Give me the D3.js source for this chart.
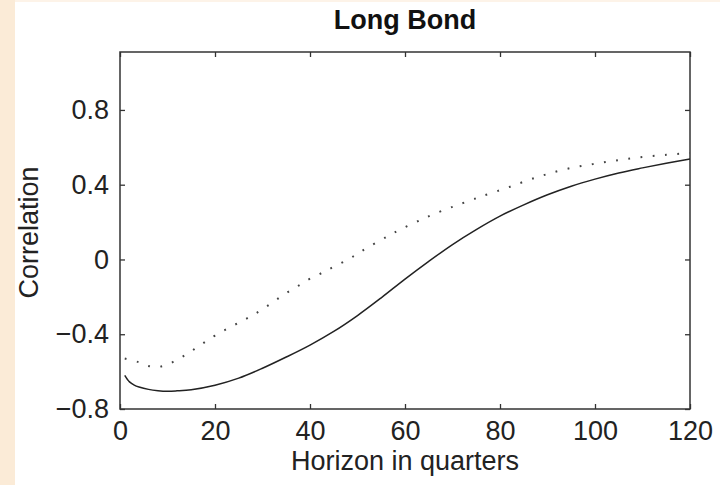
<!DOCTYPE html>
<html>
<head>
<meta charset="utf-8">
<script src="https://cdn.jsdelivr.net/npm/d3@7.9.0/dist/d3.min.js"></script>
<style>
  html, body { margin: 0; padding: 0; background: #fff; }
  svg { display: block; font-family: 'Liberation Sans', Arial, sans-serif; }
</style>
</head>
<body>
<div id="chart"></div>
<script>
// horizon (quarters) and correlations
const solidX = [1, 2, 3, 4, 6, 8, 10, 12, 15, 20, 25, 30, 35, 40, 45, 50, 55, 60, 65, 70, 75, 80, 85, 90, 95, 100, 105, 110, 115, 120];
const solidY = [-0.62, -0.655, -0.672, -0.682, -0.695, -0.702, -0.705, -0.703, -0.697, -0.673, -0.635, -0.582, -0.522, -0.458, -0.385, -0.3, -0.205, -0.105, -0.01, 0.08, 0.16, 0.232, 0.292, 0.346, 0.392, 0.43, 0.463, 0.49, 0.515, 0.538];

const dottedX = [1, 4, 6, 8, 10, 12, 14, 16, 18, 20, 23, 26, 28, 30, 32, 34, 36, 38, 40, 43, 45, 48, 50, 52, 55, 57, 59, 62, 64, 66, 69, 71, 74, 76, 79, 82, 86, 90, 95, 100, 105, 110, 115, 120];
const dottedY = [-0.53, -0.55, -0.57, -0.575, -0.562, -0.537, -0.507, -0.474, -0.44, -0.407, -0.365, -0.325, -0.297, -0.266, -0.232, -0.196, -0.164, -0.134, -0.103, -0.066, -0.039, 0.0, 0.03, 0.062, 0.105, 0.133, 0.16, 0.197, 0.219, 0.242, 0.272, 0.291, 0.318, 0.337, 0.362, 0.388, 0.425, 0.457, 0.49, 0.512, 0.532, 0.548, 0.56, 0.57];

const xTicks = [0, 20, 40, 60, 80, 100, 120];
const yTicks = [-0.8, -0.4, 0, 0.4, 0.8];

const title = 'Long Bond';
const xLabel = 'Horizon in quarters';
const yLabel = 'Correlation';

const width = 720;
const height = 485;
const plot = { left: 120, right: 690, top: 52, bottom: 409 };

const svg = d3.select('#chart')
  .append('svg')
  .attr('width', width)
  .attr('height', height);

// page decoration strips
svg.append('rect').attr('x', 0).attr('y', 0).attr('width', width).attr('height', 2).attr('fill', '#fdf3e8');
svg.append('rect').attr('x', 0).attr('y', 0).attr('width', 15).attr('height', height).attr('fill', '#fbebd7');

const x = d3.scaleLinear().domain([0, 120]).range([plot.left, plot.right]);
const y = d3.scaleLinear().domain([-0.8, 1.11]).range([plot.bottom, plot.top]);

const fmt = (d) => (d < 0 ? '\u2212' + Math.abs(d) : String(d));

function styleAxis(g) {
  g.select('.domain').remove();
  g.selectAll('.tick line').attr('stroke', '#333').attr('stroke-width', 1.3);
  g.selectAll('.tick text')
    .attr('fill', '#222')
    .style('font-size', '27px')
    .style('font-family', "'Liberation Sans', Arial, sans-serif");
}

svg.append('g')
  .attr('transform', `translate(0,${plot.bottom})`)
  .call(d3.axisBottom(x).tickValues(xTicks).tickSize(-5).tickPadding(12).tickFormat(fmt))
  .call(styleAxis);

svg.append('g')
  .attr('transform', `translate(0,${plot.top})`)
  .call(d3.axisTop(x).tickValues(xTicks).tickSize(-5).tickFormat(''))
  .call(styleAxis);

svg.append('g')
  .attr('transform', `translate(${plot.left},0)`)
  .call(d3.axisLeft(y).tickValues(yTicks).tickSize(-5).tickPadding(11).tickFormat(fmt))
  .call(styleAxis);

svg.append('g')
  .attr('transform', `translate(${plot.right},0)`)
  .call(d3.axisRight(y).tickValues(yTicks).tickSize(-5).tickFormat(''))
  .call(styleAxis);

svg.append('rect')
  .attr('x', plot.left)
  .attr('y', plot.top)
  .attr('width', plot.right - plot.left)
  .attr('height', plot.bottom - plot.top)
  .attr('fill', 'none')
  .attr('stroke', '#333')
  .attr('stroke-width', 1.5);

const line = d3.line()
  .x((d) => x(d[0]))
  .y((d) => y(d[1]))
  .curve(d3.curveCatmullRom);

svg.append('path')
  .datum(d3.zip(dottedX, dottedY))
  .attr('d', line)
  .attr('fill', 'none')
  .attr('stroke', '#444')
  .attr('stroke-width', 2)
  .attr('stroke-dasharray', '1.8,10.5');

svg.append('path')
  .datum(d3.zip(solidX, solidY))
  .attr('d', line)
  .attr('fill', 'none')
  .attr('stroke', '#222')
  .attr('stroke-width', 1.5);

svg.append('text')
  .attr('x', (plot.left + plot.right) / 2)
  .attr('y', 29)
  .attr('text-anchor', 'middle')
  .attr('fill', '#111')
  .style('font-size', '27px')
  .style('font-weight', 'bold')
  .text(title);

svg.append('text')
  .attr('x', (plot.left + plot.right) / 2)
  .attr('y', 470)
  .attr('text-anchor', 'middle')
  .attr('fill', '#222')
  .style('font-size', '27px')
  .text(xLabel);

svg.append('text')
  .attr('transform', `translate(38,${(plot.top + plot.bottom) / 2 + 2}) rotate(-90)`)
  .attr('text-anchor', 'middle')
  .attr('fill', '#222')
  .style('font-size', '27px')
  .text(yLabel);
</script>
</body>
</html>
